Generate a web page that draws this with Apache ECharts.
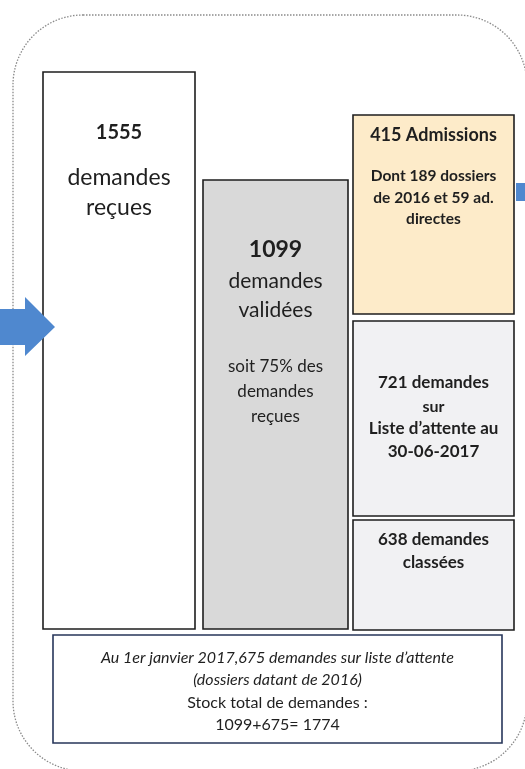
<!DOCTYPE html>
<html>
<head>
<meta charset="utf-8">
<script src="https://cdn.jsdelivr.net/npm/echarts@6/dist/echarts.min.js"></script>
<style>
html,body{margin:0;padding:0;background:#fff;}
#chart{width:525px;height:769px;}
</style>
</head>
<body>
<div id="chart"></div>
<script>
// ---- data ----
const categories = ['demandes reçues', 'demandes validées', 'Admissions', 'demandes sur liste d’attente', 'demandes classées'];
const values = [1555, 1099, 415, 721, 638];
const validatedPct = [75];
const admissionDetails = [189, 59];        // dossiers de 2016, admissions directes
const waitlistDate = ['30-06-2017'];
const waitlistStart = [675];               // au 1er janvier 2017
const stockTotal = [1774];

// ---- text content built from data ----
const boxTexts = [
  [String(values[0]), 'demandes', 'reçues'],
  [String(values[1]), 'demandes', 'validées', 'soit ' + validatedPct[0] + '% des', 'demandes', 'reçues'],
  [values[2] + ' Admissions', 'Dont ' + admissionDetails[0] + ' dossiers', 'de 2016 et ' + admissionDetails[1] + ' ad.', 'directes'],
  [values[3] + ' demandes', 'sur', 'Liste d’attente au', waitlistDate[0]],
  [values[4] + ' demandes', 'classées'],
  ['Au 1er janvier 2017,' + waitlistStart[0] + ' demandes sur liste d’attente', '(dossiers datant de 2016)', 'Stock total de demandes :', values[1] + '+' + waitlistStart[0] + '= ' + stockTotal[0]]
];

// ---- layout (diagram geometry, in axis units) ----
const boxRects = [
  [43, 72, 195, 629],
  [203, 180, 348, 629],
  [353, 115, 514, 314],
  [353, 321, 514, 516],
  [353, 520, 514, 630],
  [53, 635, 502, 743]
];
const boxStyles = [
  {fill: '#ffffff', stroke: '#1e1e1e'},
  {fill: '#d9d9d9', stroke: '#1e1e1e'},
  {fill: '#fdebc9', stroke: '#1e1e1e'},
  {fill: '#f1f1f3', stroke: '#1e1e1e'},
  {fill: '#f1f1f3', stroke: '#1e1e1e'},
  {fill: '#ffffff', stroke: '#27365a'}
];
// per line: [y, fontSize, weight, style]
const lineSpecs = [
  [[133, 20, 'bold'], [178, 23, 'normal'], [208, 23, 'normal']],
  [[250, 23, 'bold'], [281, 21, 'normal'], [310, 21, 'normal'], [367, 17, 'normal'], [392, 17, 'normal'], [417, 17, 'normal']],
  [[135, 18, 'bold'], [176, 15.5, 'bold'], [198, 15.5, 'bold'], [219, 15.5, 'bold']],
  [[383, 17, 'bold'], [407, 16, 'bold'], [429, 17, 'bold'], [452, 17, 'bold']],
  [[540, 17, 'bold'], [563, 17, 'bold']],
  [[658, 16, 'normal', 'italic'], [680, 16, 'normal', 'italic'], [703, 16, 'normal'], [725, 16, 'normal']]
];
const FONT = 'Lato, "Open Sans", sans-serif';
const TEXT_COLOR = '#1f1f1f';

const chart = echarts.init(document.getElementById('chart'), null, {renderer: 'canvas'});

const option = {
  animation: false,
  backgroundColor: '#ffffff',
  grid: {left: 0, right: 0, top: 0, bottom: 0},
  xAxis: {type: 'value', min: 0, max: 525, show: false},
  yAxis: {type: 'value', min: 0, max: 769, inverse: true, show: false},
  graphic: [
    {
      type: 'rect', z: 0,
      shape: {x: 13, y: 15, width: 514, height: 756, r: 70},
      style: {fill: 'none', stroke: '#8a8a8a', lineWidth: 1.3, lineDash: [1.5, 1.5]}
    },
    {
      type: 'polygon', z: 5,
      shape: {points: [[0, 309], [25, 309], [25, 297], [55, 327], [25, 356], [25, 345], [0, 345]]},
      style: {fill: '#4f88cf'}
    },
    {
      type: 'polygon', z: 5,
      shape: {points: [[516, 183], [525, 183], [525, 201], [516, 201]]},
      style: {fill: '#4f88cf'}
    }
  ],
  series: [{
    type: 'custom',
    coordinateSystem: 'cartesian2d',
    data: categories.map((c, i) => [i]).concat([[5]]),
    renderItem: function (params, api) {
      const idx = api.value(0);
      const r = boxRects[idx];
      const p0 = api.coord([r[0], r[1]]);
      const p1 = api.coord([r[2], r[3]]);
      const cx = (p0[0] + p1[0]) / 2;
      const children = [{
        type: 'rect',
        shape: {x: p0[0], y: p0[1], width: p1[0] - p0[0], height: p1[1] - p0[1]},
        style: {fill: boxStyles[idx].fill, stroke: boxStyles[idx].stroke, lineWidth: 1.6}
      }];
      boxTexts[idx].forEach(function (t, j) {
        const s = lineSpecs[idx][j];
        const py = api.coord([0, s[0]])[1];
        children.push({
          type: 'text',
          style: {
            text: t, x: cx, y: py,
            align: 'center', verticalAlign: 'middle',
            fontSize: s[1], fontWeight: s[2], fontStyle: s[3] || 'normal',
            fontFamily: FONT, fill: TEXT_COLOR
          }
        });
      });
      return {type: 'group', children: children};
    }
  }]
};
chart.setOption(option);
</script>
</body>
</html>
